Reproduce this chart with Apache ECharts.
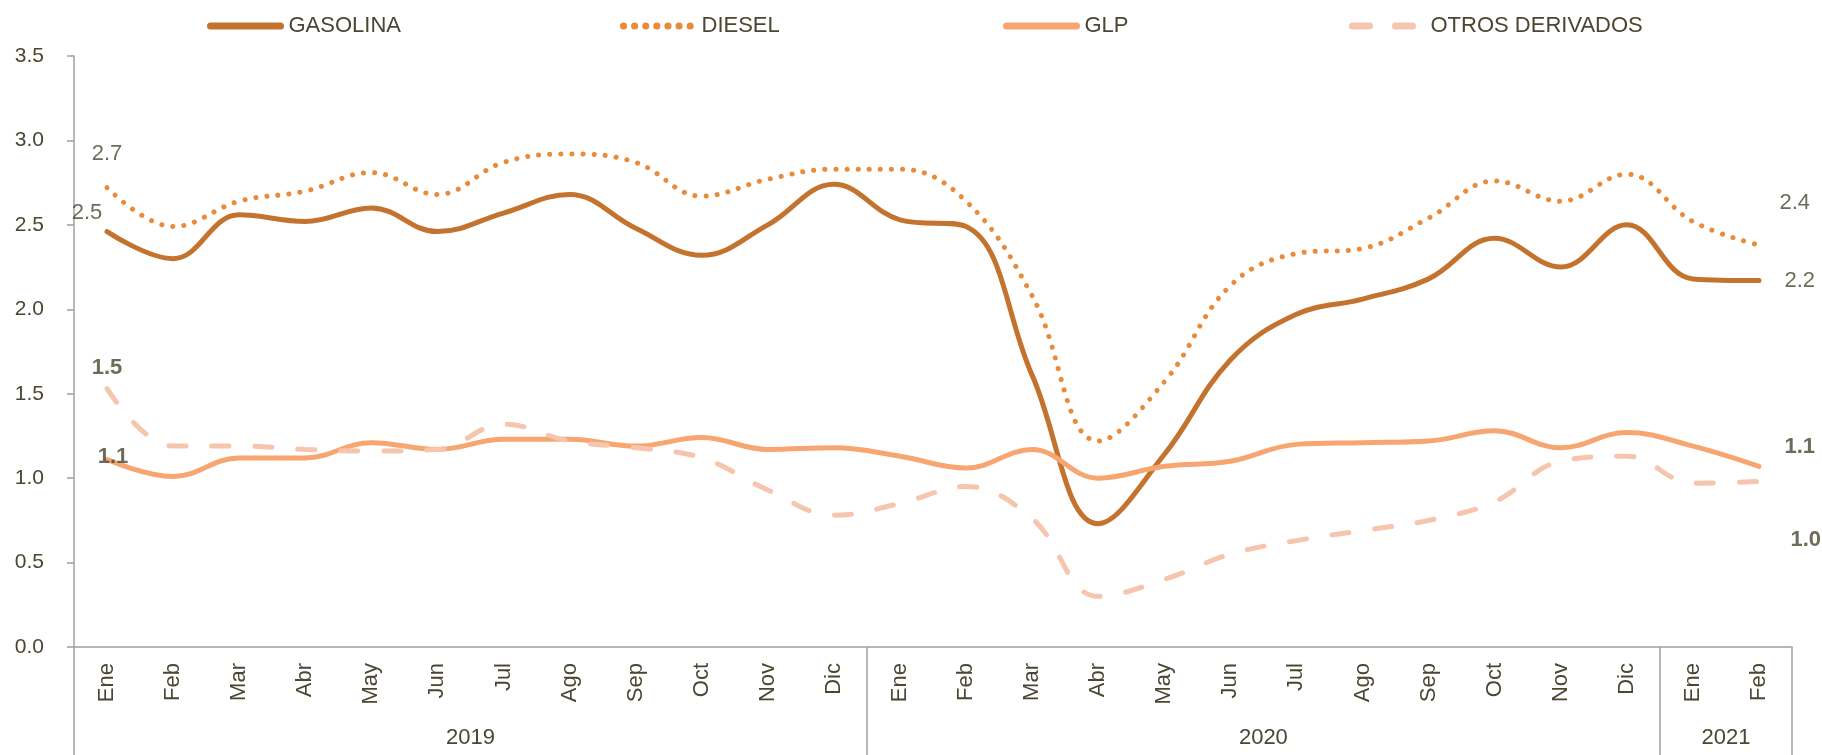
<!DOCTYPE html>
<html>
<head>
<meta charset="utf-8">
<title>Derivados</title>
<script src="https://cdn.jsdelivr.net/npm/echarts@6.0.0/dist/echarts.min.js"></script>
<style>
  html, body { margin: 0; padding: 0; background: #fff; }
  #main { width: 1822px; height: 755px; }
</style>
</head>
<body>
<div id="main"></div>
<script>
// datos
var meses = ['Ene','Feb','Mar','Abr','May','Jun','Jul','Ago','Sep','Oct','Nov','Dic',
             'Ene','Feb','Mar','Abr','May','Jun','Jul','Ago','Sep','Oct','Nov','Dic',
             'Ene','Feb'];
var anios = ['2019', '2020', '2021'];
var mesesPorAnio = [12, 12, 2];

var gasolina = [2.46,2.30,2.56,2.52,2.60,2.46,2.57,2.68,2.48,2.32,2.50,2.74,
                2.53,2.49,1.61,0.73,1.14,1.70,1.97,2.06,2.18,2.42,2.25,2.50,
                2.18,2.17];
var diesel   = [2.72,2.49,2.64,2.70,2.81,2.68,2.87,2.92,2.87,2.67,2.77,2.83,
                2.83,2.64,2.08,1.22,1.57,2.14,2.33,2.36,2.54,2.76,2.64,2.80,
                2.52,2.38];
var glp      = [1.11,1.01,1.12,1.12,1.21,1.17,1.23,1.23,1.19,1.24,1.17,1.18,
                1.13,1.06,1.17,1.00,1.07,1.10,1.20,1.21,1.22,1.28,1.18,1.27,
                1.19,1.07];
var otros    = [1.53,1.19,1.19,1.17,1.16,1.17,1.32,1.22,1.18,1.12,0.93,0.78,
                0.85,0.95,0.76,0.30,0.40,0.55,0.63,0.69,0.75,0.86,1.10,1.13,
                0.97,0.98];

var txt = '#4b4631';
var gris = '#a0a0a0';
var fuente = "'Liberation Sans', Arial, sans-serif";

var colGas = '#c4732f', colDie = '#e98b3b', colGlp = '#f7a671', colOtr = '#f6c5ad';

// centros de cada anio y separadores
var sep = [0], centros = [], acum = 0;
for (var k = 0; k < mesesPorAnio.length; k++) {
    centros.push(acum + mesesPorAnio[k] / 2);
    acum += mesesPorAnio[k];
    sep.push(acum);
}

// serie invisible con las etiquetas del primer y ultimo mes
function etiquetas(vals, ini, fin) {
    var n = vals.length - 1;
    var base = {
        show: true, color: txt, fontSize: 22, fontFamily: fuente,
        formatter: function (p) { return p.value[1].toFixed(1); }
    };
    return {
        type: 'scatter',
        symbol: 'circle',
        symbolSize: 1,
        silent: true,
        z: 5,
        itemStyle: { color: 'rgba(0,0,0,0)' },
        data: [
            { value: [0, vals[0]], label: Object.assign({}, base, ini) },
            { value: [n, vals[n]], label: Object.assign({}, base, fin) }
        ]
    };
}

function leyenda(nombre, x) {
    return {
        data: [nombre],
        left: x,
        top: 10,
        itemWidth: 70,
        itemHeight: 16,
        selectedMode: false,
        itemStyle: { opacity: 0 },
        lineStyle: { width: 7 },
        textStyle: { color: txt, fontSize: 22, fontFamily: fuente, padding: [0, 0, 0, 3] }
    };
}

var chartDom = document.getElementById('main');
var myChart = echarts.init(chartDom);

var option = {
    animation: false,
    legend: [
        leyenda('GASOLINA', 202),
        leyenda('DIESEL', 615),
        leyenda('GLP', 998),
        leyenda('OTROS DERIVADOS', 1344)
    ],
    grid: { left: 74, right: 30, top: 56, bottom: 108 },
    xAxis: [
        {
            type: 'category',
            data: meses,
            boundaryGap: true,
            axisLine: { lineStyle: { color: gris, width: 1.5 } },
            axisTick: { interval: 0, length: 60, lineStyle: { color: gris, width: 1.5 } },
            axisLabel: {
                interval: 0, rotate: 90, margin: 16,
                color: txt, fontSize: 22, fontFamily: fuente
            }
        },
        {
            type: 'value',
            min: 0,
            max: meses.length,
            position: 'bottom',
            axisLine: { show: false },
            splitLine: { show: false },
            axisTick: { show: true, customValues: sep, length: 108, lineStyle: { color: gris, width: 1.5 } },
            axisLabel: {
                customValues: centros, margin: 80,
                color: txt, fontSize: 22, fontFamily: fuente,
                formatter: function (v) { return anios[centros.indexOf(v)]; }
            }
        }
    ],
    yAxis: {
        type: 'value',
        min: 0,
        max: 3.5,
        interval: 0.5,
        splitLine: { show: false },
        axisLine: { show: true, lineStyle: { color: gris, width: 1.5 } },
        axisTick: { show: true, length: 7, lineStyle: { color: gris, width: 1.5 } },
        axisLabel: {
            margin: 30, color: txt, fontSize: 21, fontFamily: fuente,
            formatter: function (v) { return v.toFixed(1); }
        }
    },
    series: [
        {
            name: 'GASOLINA', type: 'line', smooth: 0.4, symbol: 'none',
            lineStyle: { color: colGas, width: 5, cap: 'round' },
            itemStyle: { color: colGas },
            data: gasolina
        },
        {
            name: 'DIESEL', type: 'line', smooth: 0.4, symbol: 'none',
            lineStyle: { color: colDie, width: 5, type: [0.1, 11], cap: 'round' },
            itemStyle: { color: colDie },
            data: diesel
        },
        {
            name: 'GLP', type: 'line', smooth: 0.4, symbol: 'none',
            lineStyle: { color: colGlp, width: 5, cap: 'round' },
            itemStyle: { color: colGlp },
            data: glp
        },
        {
            name: 'OTROS DERIVADOS', type: 'line', smooth: 0.4, symbol: 'none',
            lineStyle: { color: colOtr, width: 5, type: [17, 26], cap: 'round' },
            itemStyle: { color: colOtr },
            data: otros
        },
        etiquetas(gasolina,
            { position: 'top', distance: 7, offset: [-20, 0] },
            { position: 'right', distance: 25 }),
        etiquetas(diesel,
            { position: 'top', distance: 22 },
            { position: 'right', distance: 20, offset: [0, -42] }),
        etiquetas(glp,
            { position: 'top', distance: 0, offset: [6, 9], fontWeight: 'bold' },
            { position: 'right', distance: 25, offset: [0, -19], fontWeight: 'bold' }),
        etiquetas(otros,
            { position: 'top', distance: 9, fontWeight: 'bold' },
            { position: 'right', distance: 31, offset: [0, 58], fontWeight: 'bold' })
    ]
};

myChart.setOption(option);
</script>
</body>
</html>
